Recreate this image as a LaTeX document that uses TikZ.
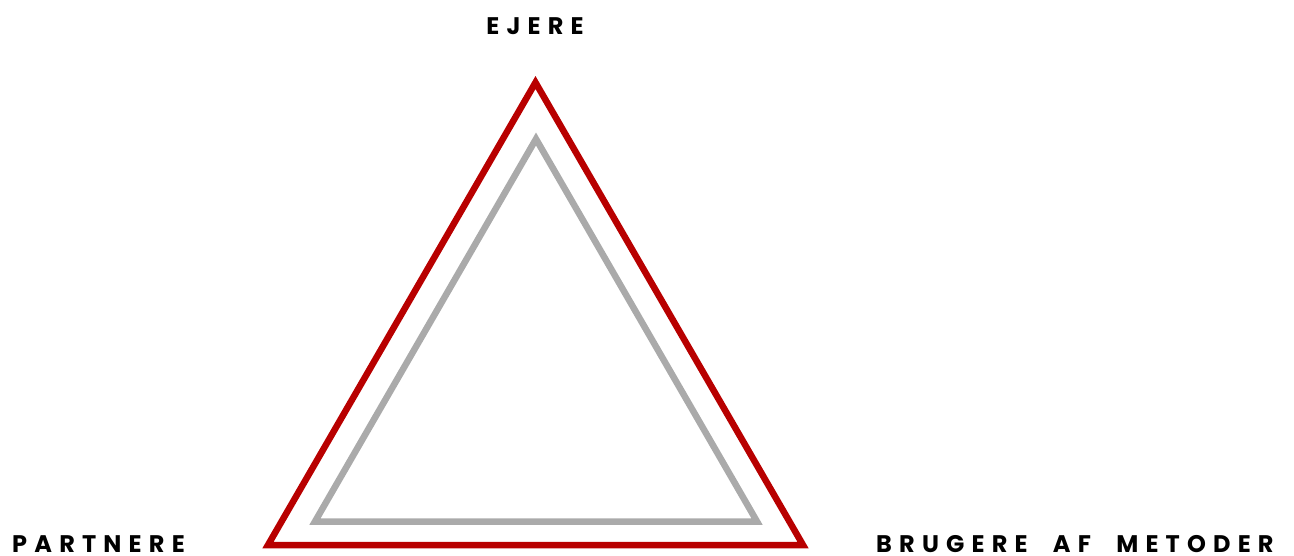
\documentclass[tikz,border=0pt]{standalone}
\usepackage{fontspec}
\setmainfont{Poppins}
\newfontfamily\labelfont[LetterSpace=30]{Poppins}
\definecolor{tred}{HTML}{B80000}
\definecolor{tgray}{HTML}{AAAAAA}
\tikzset{
  lbl/.style={font=\labelfont\bfseries\fontsize{24}{24}\selectfont, text=black, inner sep=0pt},
  tri/.style={line width=6.5pt, miter limit=10, line join=miter}
}
\begin{document}
\begin{tikzpicture}[x=1pt,y=-1pt]
\useasboundingbox (0,0) rectangle (1294,556);
\coordinate (oa) at (535.5,82.5);
\coordinate (ob) at (268,545);
\coordinate (oc) at (803,545);
\coordinate (ia) at (536,139);
\coordinate (ib) at (315,521.5);
\coordinate (ic) at (757,521.5);
\draw[tri, tred] (oa) -- (ob) -- (oc) -- cycle;
\draw[tri, tgray] (ia) -- (ib) -- (ic) -- cycle;
\node[lbl, anchor=base] (ejere) at (535,35) {EJERE};
\node[lbl, anchor=base west] (partnere) at (12,552.5) {PARTNERE};
\node[lbl, anchor=base west] (brugere) at (876,552.5) {BRUGERE\hspace{13pt} AF\hspace{13pt} METODER};
\end{tikzpicture}
\end{document}
